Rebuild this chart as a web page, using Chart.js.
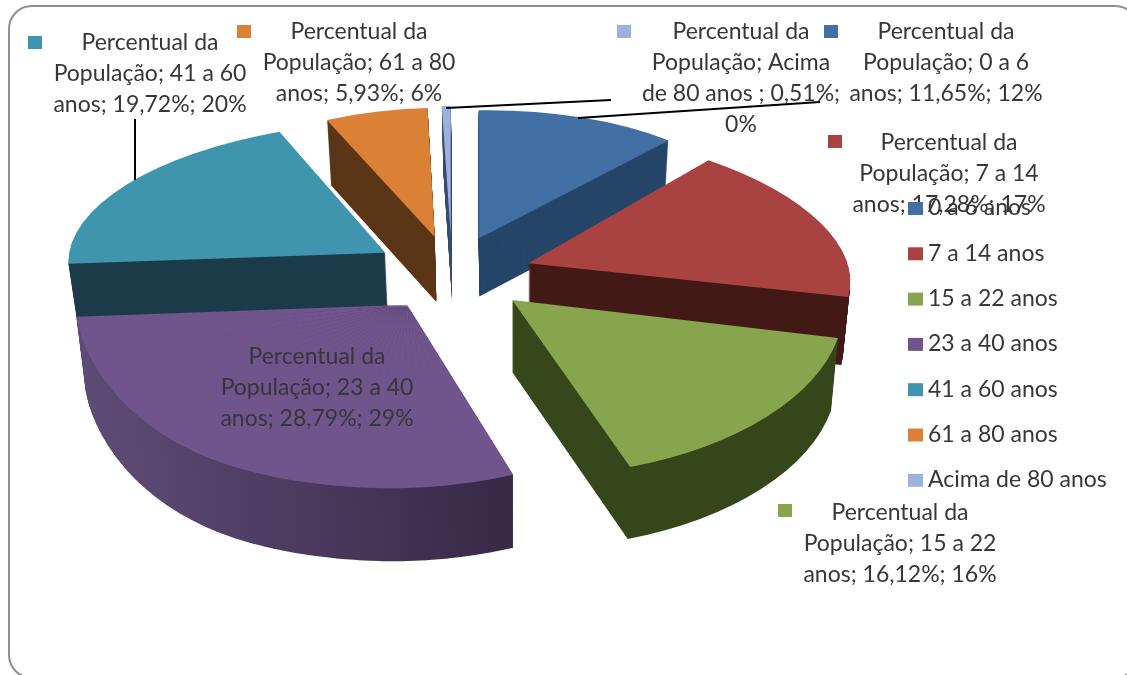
<!DOCTYPE html>
<html lang="pt">

<head>
    <meta charset="UTF-8">
    <title>Percentual da População</title>
    <script src="https://cdn.jsdelivr.net/npm/chart.js"></script>
    <style>
        html, body {
            margin: 0;
            width: 1127px;
            height: 675px;
            overflow: hidden;
            background-color: #ffffff;
        }

        .frame {
            position: absolute;
            left: 8px;
            top: 5px;
            width: 1127px;
            height: 670px;
            border: 2px solid #8f8f8f;
            border-radius: 24px;
        }

        canvas {
            position: absolute;
            left: 0;
            top: 0;
        }
    </style>
</head>

<body>
    <div class="frame"></div>
    <canvas id="pie" width="1127" height="675"></canvas>

    <script>
        // Values
        const categories = ['0 a 6 anos', '7 a 14 anos', '15 a 22 anos', '23 a 40 anos', '41 a 60 anos', '61 a 80 anos', 'Acima de 80 anos'];
        const percentValues = [11.65, 17.28, 16.12, 28.79, 19.72, 5.93, 0.51];

        const topColors = ['#426fa4', '#a84341', '#87a54d', '#70548c', '#3e95ad', '#da8136', '#9ab2dc'];
        const sideColors = ['#264669', '#431a16', ['#3b4e1d', '#34461a'], ['#5e4c76', '#32233e'], '#1d3c4a', '#5a3516', '#3b4d70'];

        const dataLabels = [
            ['Percentual da', 'População; 0 a 6', 'anos; 11,65%; 12%'],
            ['Percentual da', 'População; 7 a 14', 'anos; 17,28%; 17%'],
            ['Percentual da', 'População; 15 a 22', 'anos; 16,12%; 16%'],
            ['Percentual da', 'População; 23 a 40', 'anos; 28,79%; 29%'],
            ['Percentual da', 'População; 41 a 60', 'anos; 19,72%; 20%'],
            ['Percentual da', 'População; 61 a 80', 'anos; 5,93%; 6%'],
            ['Percentual da', 'População; Acima', 'de 80 anos ; 0,51%;', '0%']
        ];

        // Layout of the fake 3D pie, one entry per slice
        const pieCenter = { x: 450, y: 272 };
        const squash = 0.45;
        const explode = [80, 82, 88, 80, 78, 75, 80];
        const nudge = [[0, 0], [0, 2], [-2, 1], [2, 3], [2, -1], [1, -2], [2, -1]];
        // each view is one or two [a, b, c, d] matrices; with two, the big front slice
        // blends from one to the other so it looks closer to the original perspective
        const views = [
            [[0.948, -0.0135, 0, 0.427]],
            [[1.0625, 0, 0.1476, 0.4618]],
            [[1.1057, -0.0183, 0.0577, 0.5906]],
            [[1.0918, -0.0452, 0.0202, 0.6098], [1.1092, 0.0094, 0.041, 0.6748]],
            [[1.0547, -0.0044, -0.0677, 0.4408]],
            [[0.9274, -0.0148, -0.0058, 0.4308]],
            [[0.93, 0, 0, 0.43]]
        ];
        const blendFrom = 195 * Math.PI / 180 - Math.PI / 2;
        const blendTo = 262 * Math.PI / 180 - Math.PI / 2;
        const wedgeStep = 4 * Math.PI / 180;
        const depths = [58, 68, 72, 73, 62, 65, 65];
        const paintOrder = [6, 5, 0, 1, 4, 2, 3];

        const labelPlaces = [
            { x: 946, y: 32, keyX: 824, keyY: 25 },
            { x: 949, y: 143, keyX: 828, keyY: 135 },
            { x: 900, y: 513, keyX: 778, keyY: 504 },
            { x: 317, y: 357 },
            { x: 150, y: 43, keyX: 28, keyY: 36 },
            { x: 359, y: 32, keyX: 237, keyY: 25 },
            { x: 741, y: 32, keyX: 617, keyY: 25 }
        ];
        const leaderLines = [
            [135, 119, 135, 180],
            [446, 108, 611, 100],
            [578, 118, 820, 102]
        ];

        const textColor = '#38363a';
        const fontName = 'Lato, "Open Sans", sans-serif';

        function placeSlice(ctx, arc, i, v) {
            const mid = (arc.startAngle + arc.endAngle) / 2;
            const px = pieCenter.x + explode[i] * Math.cos(mid) + nudge[i][0];
            const py = pieCenter.y + explode[i] * Math.sin(mid) * squash + nudge[i][1];
            ctx.translate(px, py);
            ctx.transform(v[0], v[1], v[2], v[3], 0, 0);
            ctx.translate(-arc.x, -arc.y);
        }

        // where a point on the rim lands once the two matrices are blended
        function rimPoint(list, angle) {
            let w = Math.min(1, Math.max(0, (angle - blendFrom) / (blendTo - blendFrom)));
            w = w * w * (3 - 2 * w);
            const m = list[0].map((n, k) => n * (1 - w) + list[1][k] * w);
            const ux = Math.cos(angle);
            const uy = Math.sin(angle);
            return [m[0] * ux + m[2] * uy, m[1] * ux + m[3] * uy];
        }

        // matrix taking the two rays of a thin wedge onto their rim points
        function wedgeMatrix(list, a0, a1) {
            const p0 = rimPoint(list, a0);
            const p1 = rimPoint(list, a1);
            const x0 = Math.cos(a0), y0 = Math.sin(a0);
            const x1 = Math.cos(a1), y1 = Math.sin(a1);
            const det = x0 * y1 - y0 * x1;
            return [
                (p0[0] * y1 - y0 * p1[0]) / det,
                (p0[1] * y1 - y0 * p1[1]) / det,
                (x0 * p1[0] - x1 * p0[0]) / det,
                (x0 * p1[1] - x1 * p0[1]) / det
            ];
        }

        function drawArcViews(ctx, arc, i) {
            const list = views[i];
            if (list.length === 1) {
                ctx.save();
                placeSlice(ctx, arc, i, list[0]);
                arc.draw(ctx);
                ctx.restore();
                return;
            }
            const count = Math.ceil((arc.endAngle - arc.startAngle) / wedgeStep);
            const step = (arc.endAngle - arc.startAngle) / count;
            for (let n = count - 1; n >= 0; n--) {
                const a0 = arc.startAngle + n * step;
                const a1 = a0 + step;
                ctx.save();
                placeSlice(ctx, arc, i, wedgeMatrix(list, a0, a1));
                ctx.beginPath();
                ctx.moveTo(arc.x, arc.y);
                // wedges overlap a hair so no seam shows
                ctx.arc(arc.x, arc.y, arc.outerRadius * 1.2, a0 - (n === 0 ? 0.05 : 0), a1 + (n === count - 1 ? 0.05 : 0.004));
                ctx.closePath();
                ctx.clip();
                arc.draw(ctx);
                ctx.restore();
            }
        }

        function drawSide(ctx, arc, i) {
            const original = arc.options;
            let fill = sideColors[i];
            if (Array.isArray(fill)) {
                const grad = ctx.createLinearGradient(arc.x - arc.outerRadius, 0, arc.x + arc.outerRadius * 0.5, 0);
                grad.addColorStop(0, fill[0]);
                grad.addColorStop(1, fill[1]);
                fill = grad;
            }
            arc.options = Object.assign({}, original, { backgroundColor: fill });
            for (let d = depths[i]; d > 0; d--) {
                // sides lean in a little towards the bottom
                const lean = 1 - 0.021 * d / depths[i];
                ctx.save();
                ctx.translate(513, d);
                ctx.scale(lean, 1);
                ctx.translate(-513, 0);
                drawArcViews(ctx, arc, i);
                ctx.restore();
            }
            arc.options = original;
        }

        const pie3d = {
            id: 'pie3d',
            beforeDatasetDraw(chart) {
                const ctx = chart.ctx;
                const arcs = chart.getDatasetMeta(0).data;
                paintOrder.forEach(i => {
                    drawSide(ctx, arcs[i], i);
                    drawArcViews(ctx, arcs[i], i);
                });
                return false;
            },
            afterDraw(chart) {
                const ctx = chart.ctx;
                ctx.save();

                ctx.strokeStyle = '#000000';
                ctx.lineWidth = 2;
                leaderLines.forEach(l => {
                    ctx.beginPath();
                    ctx.moveTo(l[0], l[1]);
                    ctx.lineTo(l[2], l[3]);
                    ctx.stroke();
                });

                // data labels with their colour keys
                ctx.font = '23px ' + fontName;
                ctx.textAlign = 'center';
                ctx.textBaseline = 'middle';
                dataLabels.forEach((lines, i) => {
                    const place = labelPlaces[i];
                    ctx.fillStyle = textColor;
                    lines.forEach((line, n) => ctx.fillText(line, place.x, place.y + n * 31));
                    if (place.keyX !== undefined) {
                        ctx.fillStyle = topColors[i];
                        ctx.fillRect(place.keyX, place.keyY, 14, 13);
                    }
                });

                // legend
                ctx.textAlign = 'left';
                categories.forEach((name, i) => {
                    const y = 208 + i * 45.3;
                    ctx.fillStyle = topColors[i];
                    ctx.fillRect(908, y - 6, 15, 13);
                    ctx.fillStyle = textColor;
                    ctx.fillText(name, 928, y);
                });
                ctx.restore();
            }
        };

        new Chart(document.getElementById('pie'), {
            type: 'pie',
            data: {
                labels: categories,
                datasets: [{
                    label: 'Percentual da População',
                    data: percentValues,
                    backgroundColor: topColors,
                    borderWidth: 0,
                    radius: 300,
                    clip: false
                }]
            },
            options: {
                responsive: false,
                animation: false,
                plugins: {
                    legend: { display: false },
                    tooltip: { enabled: false }
                }
            },
            plugins: [pie3d]
        });
    </script>
</body>

</html>
